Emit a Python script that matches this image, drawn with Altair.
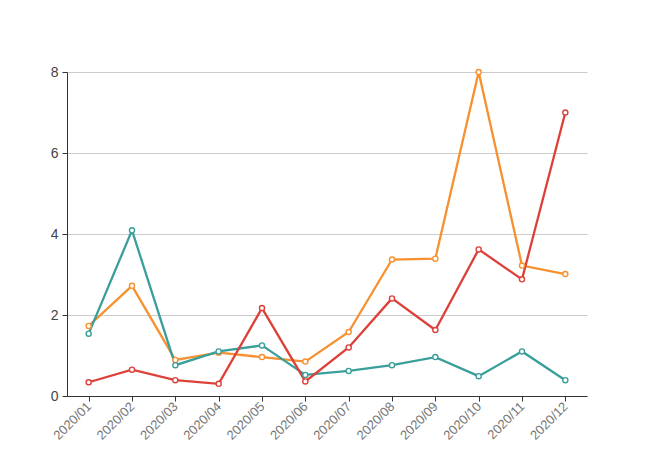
import altair as alt
import pandas as pd

months = ["2020/01", "2020/02", "2020/03", "2020/04", "2020/05", "2020/06",
          "2020/07", "2020/08", "2020/09", "2020/10", "2020/11", "2020/12"]
red = [0.34, 0.65, 0.39, 0.30, 2.17, 0.36, 1.20, 2.41, 1.63, 3.62, 2.88, 7.0]
orange = [1.73, 2.72, 0.89, 1.07, 0.96, 0.85, 1.58, 3.37, 3.39, 8.0, 3.22, 3.01]
teal = [1.54, 4.09, 0.76, 1.10, 1.25, 0.52, 0.62, 0.76, 0.96, 0.49, 1.10, 0.39]

series_names = ["orange", "teal", "red"]
series_values = [orange, teal, red]
colors = ["#f7902f", "#3a9f9b", "#dd4039"]

rows = []
for name, vals in zip(series_names, series_values):
    for m, v in zip(months, vals):
        rows.append({"month": m, "value": v, "series": name})
df = pd.DataFrame(rows)

x = alt.X("month:O", sort=months,
          scale=alt.Scale(type="point", padding=0.5),
          axis=alt.Axis(title=None, labelAngle=-45, labelAlign="right", labelBaseline="middle",
                        labelColor="#777777", labelFontSize=13, labelFont="Liberation Sans",
                        domainColor="#333333", tickColor="#333333", tickSize=5, labelPadding=3,
                        grid=False))
y = alt.Y("value:Q", scale=alt.Scale(domain=[0, 8], nice=False),
          axis=alt.Axis(title=None, values=[0, 2, 4, 6, 8], labelColor="#444444",
                        labelFontSize=14, labelFont="Liberation Sans",
                        domainColor="#333333", tickColor="#333333", tickSize=5, labelPadding=4,
                        gridColor="#cccccc", grid=True))
color = alt.Color("series:N", scale=alt.Scale(domain=series_names, range=colors), legend=None)

lines = alt.Chart(df).mark_line(strokeWidth=2.3).encode(x=x, y=y, color=color,
                                                        detail="series:N")
points = alt.Chart(df).mark_point(filled=False, fill="white", fillOpacity=1, size=26,
                                  strokeWidth=1.4, opacity=1).encode(x=x, y=y, color=color)

chart = alt.layer(lines, points).properties(
    width=520, height=324,
    padding={"left": 59, "top": 64, "right": 50, "bottom": 60},
    autosize=alt.AutoSizeParams(type="none"),
    background="white",
).configure_view(strokeWidth=0)

chart.save("out.html", embed_options={"renderer": "svg", "actions": False})
